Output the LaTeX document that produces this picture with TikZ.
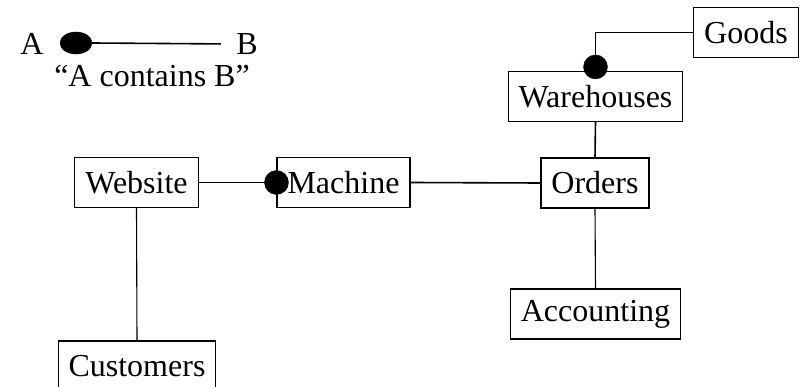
\documentclass[tikz,border=0pt]{standalone}
\usepackage{fontspec}
\setmainfont{Liberation Serif}
\usetikzlibrary{shapes.geometric}

\tikzset{
  entity/.style={draw, line width=1.1pt, inner xsep=10.5pt, minimum height=50pt},
  link/.style={line width=1.6pt},
  holder/.style={circle, fill=black, draw=black, inner sep=0pt, minimum size=24pt}
}

\begin{document}
\begin{tikzpicture}[x=1pt, y=1pt, font=\fontsize{32}{34}\selectfont]
  \useasboundingbox (0, 0) rectangle (801, 386);

  % Legend
  \node (legA) at (32, 342) {A};
  \node[ellipse, fill=black, draw=black, inner sep=0pt,
        minimum width=32pt, minimum height=22pt] (legDot) at (76, 343) {};
  \node (legB) at (247, 342) {B};
  \draw[link, shorten >=12pt] (legDot.east) -- (legB.west);
  \node (legText) at (152, 310) {``A contains B''};

  % Entities
  \node[entity] (website) at (136.5, 203.5) {Website};
  \node[entity] (machine) at (343.5, 203.5) {Machine};
  \node[entity] (orders) at (595, 203) {Orders};
  \node[entity] (warehouses) at (595.5, 289.5) {Warehouses};
  \node[entity] (goods) at (746, 353.5) {Goods};
  \node[entity] (accounting) at (595.5, 72) {Accounting};
  \node[entity] (customers) at (137, 20) {Customers};

  % Connectors
  \draw[link] (website.east) -- (machine.west);
  \draw[link] (machine.east) -- (orders.west);
  \draw[link] (orders.north) -- (warehouses.south);
  \draw[link] (warehouses.north) |- (goods.west);
  \draw[line width=1.1pt] (website.south) -- (customers.north);
  \draw[line width=1.1pt] (orders.south) -- (accounting.north);

  % Containment dots
  \node[holder] (machineDot) at (machine.west) {};
  \node[holder] (warehouseDot) at ([yshift=4pt]warehouses.north) {};
\end{tikzpicture}
\end{document}
